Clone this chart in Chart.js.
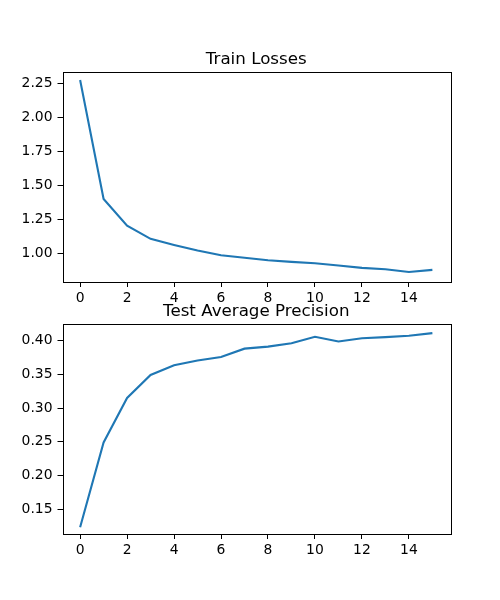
<!DOCTYPE html>
<html>
<head>
<meta charset="utf-8">
<script src="https://cdn.jsdelivr.net/npm/chart.js@4.4.1/dist/chart.umd.min.js"></script>
<style>
  html, body { margin: 0; padding: 0; background: #fff; }
  #wrap { position: relative; width: 500px; height: 600px; }
  #wrap canvas { position: absolute; left: 0; top: 0; }
</style>
</head>
<body>
<div id="wrap">
  <canvas id="lossChart" width="500" height="600"></canvas>
  <canvas id="apChart" width="500" height="600"></canvas>
</div>
<script>
// epochs
const epochs = [0, 1, 2, 3, 4, 5, 6, 7, 8, 9, 10, 11, 12, 13, 14, 15];

const trainLosses = [2.275, 1.399, 1.202, 1.106, 1.061, 1.020, 0.985, 0.966, 0.948, 0.936, 0.926, 0.909, 0.892, 0.882, 0.862, 0.877];
const testAP = [0.1235, 0.249, 0.315, 0.349, 0.3635, 0.3705, 0.3755, 0.388, 0.391, 0.396, 0.4055, 0.3985, 0.4035, 0.405, 0.407, 0.411];

const xTicks = [0, 2, 4, 6, 8, 10, 12, 14];
const lossTicks = [1.00, 1.25, 1.50, 1.75, 2.00, 2.25];
const apTicks = [0.15, 0.20, 0.25, 0.30, 0.35, 0.40];

const FONT = 'DejaVu Sans';

// matplotlib-ish frame + title drawn around the chart area
const framePlugin = {
    id: 'frame',
    afterDraw(chart, args, opts) {
        const { ctx, chartArea: a } = chart;
        ctx.save();
        ctx.strokeStyle = '#000';
        ctx.lineWidth = 1;
        ctx.strokeRect(Math.round(a.left) + 0.5, Math.round(a.top) + 0.5,
            Math.round(a.right - a.left), Math.round(a.bottom - a.top));
        ctx.fillStyle = '#000';
        ctx.font = '16.7px "' + FONT + '"';
        ctx.textAlign = 'center';
        ctx.textBaseline = 'alphabetic';
        ctx.fillText(opts.text, (a.left + a.right) / 2, a.top - 8);
        ctx.restore();
    }
};

function makeChart(id, values, yTicks, yMin, yMax, title, padTop, padBottom) {
    const tickFont = { size: 13.9, family: FONT };
    return new Chart(document.getElementById(id), {
        type: 'line',
        data: {
            datasets: [{
                data: epochs.map((e, i) => ({ x: e, y: values[i] })),
                borderColor: '#1f77b4',
                borderWidth: 2.1,
                pointRadius: 0,
                tension: 0,
                fill: false
            }]
        },
        options: {
            responsive: false,
            animation: false,
            layout: { padding: { top: padTop, bottom: padBottom, left: 0, right: 50 } },
            plugins: {
                legend: { display: false },
                tooltip: { enabled: false },
                frame: { text: title }
            },
            scales: {
                x: {
                    type: 'linear',
                    min: -0.75,
                    max: 15.75,
                    afterBuildTicks: s => { s.ticks = xTicks.map(v => ({ value: v })); },
                    afterFit: s => { s.height = 28; },
                    grid: { drawOnChartArea: false, drawTicks: true, tickLength: 5, tickColor: '#000' },
                    border: { display: false },
                    ticks: { color: '#000', font: tickFont, padding: 3, maxRotation: 0, autoSkip: false }
                },
                y: {
                    min: yMin,
                    max: yMax,
                    afterBuildTicks: s => { s.ticks = yTicks.map(v => ({ value: v })); },
                    afterFit: s => { s.width = 62.5; },
                    grid: { drawOnChartArea: false, drawTicks: true, tickLength: 5, tickColor: '#000' },
                    border: { display: false },
                    ticks: {
                        color: '#000', font: tickFont, padding: 5, autoSkip: false,
                        callback: v => v.toFixed(2)
                    }
                }
            }
        },
        plugins: [framePlugin]
    });
}

makeChart('lossChart', trainLosses, lossTicks, 0.788, 2.334, 'Train Losses', 72, 290);
makeChart('apChart', testAP, apTicks, 0.1135, 0.4245, 'Test Average Precision', 324, 38);
</script>
</body>
</html>
